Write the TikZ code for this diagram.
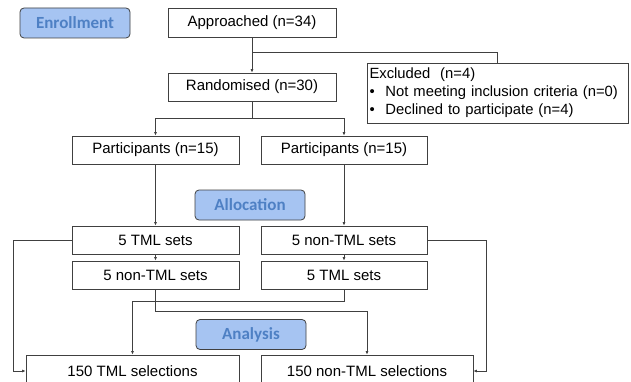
\documentclass[tikz,border=0pt]{standalone}
\usepackage{fontspec}
\setmainfont{Liberation Sans}
\newfontfamily\stagefont{Carlito}
\usetikzlibrary{arrows.meta,positioning}
\definecolor{boxline}{RGB}{64,64,64}
\definecolor{stagefill}{RGB}{166,196,242}
\definecolor{stagetext}{RGB}{78,128,196}
\tikzset{>={Latex[length=3.5pt,width=3pt]}}
\tikzset{box/.style={draw=boxline, line width=0.8pt, fill=white, inner sep=0pt,
    font=\fontsize{15}{18}\selectfont, text=black}}
\tikzset{stage/.style={draw=boxline, line width=0.8pt, rounded corners=4pt, fill=stagefill,
    minimum width=110pt, minimum height=30pt, inner sep=0pt,
    font=\stagefont\bfseries\fontsize{17}{20}\selectfont, text=stagetext}}
\tikzset{link/.style={draw=boxline, line width=0.8pt}}

\begin{document}
\begin{tikzpicture}[x=1pt,y=-1pt]
      \fill[white] (0,0) rectangle (631,382);
      \useasboundingbox (0,0) rectangle (631,382);
      \clip (0,0) rectangle (631,382);
      \node[stage] (enroll) at (75,23) {Enrollment};
      \node[stage] (alloc) at (250,205) {Allocation};
      \node[stage] (analysis) at (251,334.5) {Analysis};
      \node[box, minimum width=168pt, minimum height=29pt] (appr) at (252,22.5) {Approached (n=34)};
      \node[box, minimum width=168pt, minimum height=28pt] (rand) at (252,87) {Randomised (n=30)};
      \node[box, minimum width=261pt, minimum height=60pt, text width=256pt, align=left,
            inner xsep=2.5pt, font=\fontsize{14.8}{18}\selectfont] (excl) at (497.5,93)
            {Excluded\ \ (n=4)\\
             \makebox[16pt][l]{\textbullet}Not meeting inclusion criteria (n=0)\\
             \makebox[16pt][l]{\textbullet}Declined to participate (n=4)};
      \node[box, minimum width=167pt, minimum height=28pt] (pL) at (155.5,150) {Participants (n=15)};
      \node[box, minimum width=166pt, minimum height=28pt] (pR) at (344,150) {Participants (n=15)};
      \node[box, minimum width=167pt, minimum height=28pt] (tL) at (155.5,240) {5 TML sets};
      \node[box, minimum width=166pt, minimum height=28pt] (tR) at (344,240) {5 non-TML sets};
      \node[box, minimum width=167pt, minimum height=28pt] (nL) at (155.5,275) {5 non-TML sets};
      \node[box, minimum width=166pt, minimum height=28pt] (nR) at (344,275) {5 TML sets};
      \node[box, minimum width=213pt, minimum height=32pt] (sL) at (132.5,371) {150 TML selections};
      \node[box, minimum width=212pt, minimum height=32pt] (sR) at (367,371) {150 non-TML selections};
      \draw[link,->] (appr.south) -- (rand.north);
      \draw[link] (appr.south) ++(0,15) -| (excl.north);
      \draw[link] (rand.south) -- ++(0,17) coordinate (split);
      \draw[link,->] (split) -| (pL.north);
      \draw[link,->] (split) -| (pR.north);
      \draw[link,->] (pL.south) -- (tL.north);
      \draw[link,->] (pR.south) -- (tR.north);
      \draw[link,->] (tL.south) -- (nL.north);
      \draw[link,->] (tR.south) -- (nR.north);
      \draw[link,->] (nR.south) -- ++(0,12) -| (sL.north);
      \draw[link,->] (nL.south) -- ++(0,22) -| (sR.north);
      \draw[link,->] (tL.west) -- ++(-58,0) |- (sL.west);
      \draw[link,->] (tR.east) -- ++(59,0) |- (sR.east);
    \end{tikzpicture}
\end{document}
